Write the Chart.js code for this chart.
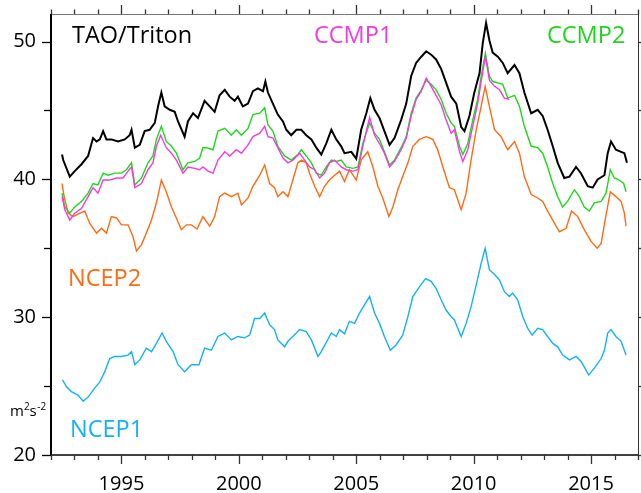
<!DOCTYPE html>
<html><head><meta charset="utf-8">
<script src="https://cdn.jsdelivr.net/npm/chart.js@4/dist/chart.umd.min.js"></script>
<style>html,body{margin:0;padding:0;background:#fff;overflow:hidden}canvas{display:block}</style>
</head><body>
<canvas id="c" width="641" height="493"></canvas>
<script>
// ---------------- data ----------------
const taoYears = [1992.47,1992.52,1992.80,1993.01,1993.30,1993.58,1993.79,1993.94,1994.08,1994.22,1994.36,1994.57,1994.86,1995.14,1995.35,1995.43,1995.57,1995.78,1995.99,1996.20,1996.42,1996.56,1996.70,1996.84,1997.06,1997.27,1997.41,1997.69,1997.83,1998.05,1998.26,1998.54,1998.76,1998.97,1999.18,1999.40,1999.61,1999.82,1999.96,2000.17,2000.39,2000.60,2000.81,2001.03,2001.13,2001.24,2001.45,2001.66,2001.88,2002.02,2002.23,2002.45,2002.66,2002.87,2003.09,2003.30,2003.51,2003.72,2003.94,2004.15,2004.36,2004.50,2004.79,2005.00,2005.21,2005.43,2005.60,2005.78,2005.99,2006.20,2006.42,2006.63,2006.91,2007.13,2007.34,2007.55,2007.77,2007.98,2008.19,2008.40,2008.62,2008.83,2009.04,2009.26,2009.47,2009.61,2009.82,2010.03,2010.25,2010.39,2010.53,2010.67,2010.81,2011.03,2011.24,2011.45,2011.74,2011.95,2012.16,2012.45,2012.73,2012.94,2013.15,2013.37,2013.58,2013.86,2014.08,2014.36,2014.57,2014.86,2015.07,2015.28,2015.57,2015.71,2015.85,2016.06,2016.28,2016.42,2016.53];
const taoValues = [41.8,41.4,40.2,40.6,41.1,41.7,43.0,42.75,42.9,43.5,42.9,42.9,42.75,42.9,43.2,43.6,42.3,42.5,43.5,43.6,44.1,45.3,46.3,45.3,45.05,44.9,44.2,43.1,44.2,44.8,44.45,45.7,45.3,44.9,46.1,46.5,46.0,45.7,46.0,45.3,45.5,46.4,46.6,46.4,47.1,46.3,45.5,44.7,44.2,43.6,43.2,43.6,43.6,43.2,42.9,42.3,41.8,42.6,43.6,42.9,42.4,41.9,42.0,41.5,43.6,44.8,45.9,45.05,44.45,43.5,42.5,43.0,44.3,45.5,47.5,48.45,48.9,49.3,49.05,48.7,48.0,47.0,46.0,45.5,43.8,43.5,44.6,46.3,47.7,49.9,51.35,50.1,49.2,48.9,48.45,47.7,48.3,47.7,46.3,44.8,45.05,44.6,43.6,42.4,41.2,40.1,40.2,40.9,40.45,39.5,39.4,40.0,40.3,41.9,42.75,42.15,42.0,41.9,41.2];

const ccmp1Years = [1992.47,1992.59,1992.80,1993.01,1993.30,1993.58,1993.79,1994.00,1994.22,1994.50,1994.79,1995.07,1995.28,1995.43,1995.57,1995.85,1996.13,1996.34,1996.49,1996.67,1996.91,1997.13,1997.34,1997.62,1997.83,1998.12,1998.33,1998.47,1998.69,1998.90,1999.11,1999.40,1999.61,1999.89,2000.11,2000.39,2000.60,2000.89,2001.10,2001.24,2001.45,2001.66,2001.88,2002.09,2002.30,2002.59,2002.80,2003.01,2003.23,2003.44,2003.65,2003.86,2004.08,2004.36,2004.57,2004.86,2005.07,2005.28,2005.57,2005.78,2005.99,2006.20,2006.42,2006.63,2006.91,2007.13,2007.34,2007.55,2007.77,2007.98,2008.19,2008.40,2008.62,2008.83,2009.04,2009.18,2009.40,2009.54,2009.75,2009.96,2010.17,2010.32,2010.50,2010.67,2010.89,2011.10,2011.31,2011.52];
const ccmp1Values = [38.75,37.8,37.05,37.55,37.9,38.75,39.4,39.0,39.95,39.95,40.1,40.1,40.6,40.9,39.4,39.7,40.7,41.2,42.4,43.2,42.3,41.9,41.4,40.45,40.9,40.8,40.7,40.9,40.6,40.45,41.4,42.0,41.7,42.15,41.9,42.5,43.1,43.35,43.85,43.1,43.0,42.3,41.55,41.2,41.4,41.9,41.4,40.9,40.7,40.1,40.45,41.2,41.4,40.9,40.7,40.6,40.7,42.4,44.5,43.2,42.6,41.9,40.9,41.3,42.15,43.0,44.6,45.8,46.4,47.35,46.75,46.1,45.4,44.3,43.35,43.6,42.0,41.3,42.15,43.85,45.5,47.1,48.9,47.2,46.75,46.5,45.9,45.8];

const ccmp2Years = [1992.47,1992.59,1992.80,1993.01,1993.30,1993.58,1993.79,1994.00,1994.22,1994.43,1994.71,1995.00,1995.21,1995.43,1995.57,1995.85,1996.13,1996.34,1996.49,1996.70,1996.91,1997.13,1997.34,1997.62,1997.83,1998.12,1998.33,1998.47,1998.62,1998.90,1999.11,1999.40,1999.68,1999.89,2000.11,2000.39,2000.60,2000.89,2001.10,2001.24,2001.45,2001.66,2001.95,2002.23,2002.51,2002.66,2002.87,2003.09,2003.30,2003.51,2003.72,2003.94,2004.15,2004.36,2004.57,2004.86,2005.07,2005.28,2005.57,2005.78,2005.99,2006.20,2006.42,2006.63,2006.91,2007.13,2007.34,2007.55,2007.77,2007.98,2008.19,2008.40,2008.62,2008.83,2009.04,2009.18,2009.40,2009.54,2009.75,2009.96,2010.17,2010.32,2010.50,2010.67,2010.81,2011.03,2011.24,2011.45,2011.74,2011.95,2012.16,2012.45,2012.73,2012.94,2013.15,2013.37,2013.58,2013.79,2014.00,2014.29,2014.50,2014.71,2014.93,2015.14,2015.43,2015.64,2015.82,2015.99,2016.20,2016.39,2016.49];
const ccmp2Values = [39.0,38.0,37.55,38.0,38.4,39.0,39.7,39.6,40.45,40.3,40.45,40.45,40.7,41.2,39.6,40.1,41.2,41.7,42.9,43.85,42.75,42.4,41.9,40.7,41.2,41.3,41.55,42.3,42.3,42.15,43.5,43.7,43.2,43.6,43.2,43.7,44.7,44.8,45.2,43.95,43.5,42.4,41.7,41.4,41.8,42.15,41.7,41.2,40.45,40.3,40.9,41.4,41.3,41.4,40.9,40.8,40.9,42.6,44.1,43.35,42.9,42.0,41.05,41.4,42.3,43.1,44.8,45.9,46.5,47.2,46.9,46.5,45.8,44.8,44.1,43.85,42.4,41.8,42.6,44.3,45.8,47.5,49.15,47.5,47.1,47.0,46.9,45.9,46.1,45.3,43.85,42.4,42.3,41.9,40.9,39.7,38.75,38.0,38.4,39.25,38.75,38.0,37.7,38.3,38.4,39.0,40.7,40.1,39.95,39.7,39.1];

const ncep2Years = [1992.47,1992.56,1992.73,1992.94,1993.23,1993.44,1993.65,1993.94,1994.15,1994.36,1994.57,1994.79,1995.00,1995.28,1995.49,1995.64,1995.85,1996.06,1996.28,1996.49,1996.70,1996.91,1997.13,1997.34,1997.55,1997.77,1997.98,1998.22,1998.47,1998.76,1998.97,1999.18,1999.40,1999.68,1999.96,2000.11,2000.39,2000.60,2000.89,2001.10,2001.31,2001.52,2001.66,2001.88,2002.09,2002.30,2002.51,2002.66,2002.87,2003.01,2003.23,2003.44,2003.65,2003.86,2004.08,2004.29,2004.50,2004.71,2005.00,2005.21,2005.49,2005.71,2005.92,2006.13,2006.39,2006.56,2006.77,2006.98,2007.20,2007.41,2007.69,2007.98,2008.26,2008.47,2008.69,2008.97,2009.18,2009.47,2009.68,2009.89,2010.11,2010.32,2010.49,2010.67,2010.89,2011.17,2011.45,2011.74,2011.95,2012.16,2012.45,2012.73,2012.94,2013.15,2013.37,2013.65,2013.94,2014.17,2014.43,2014.71,2015.00,2015.26,2015.43,2015.60,2015.82,2016.06,2016.28,2016.42,2016.49];
const ncep2Values = [39.7,38.75,37.55,37.3,37.55,37.7,36.8,36.1,36.45,36.1,37.3,37.2,36.7,36.7,35.85,34.8,35.25,36.1,37.05,38.3,39.95,39.1,38.0,37.2,36.35,36.7,36.7,36.4,37.3,36.6,37.3,38.75,39.0,38.75,39.0,38.15,38.65,39.5,40.3,41.05,39.7,39.4,38.75,39.1,38.75,39.95,41.2,41.4,41.2,40.45,39.5,38.75,39.5,39.95,40.3,40.6,39.85,40.7,39.95,41.4,42.0,40.9,39.5,38.65,37.3,38.0,39.25,40.2,41.2,42.4,42.9,43.1,42.9,42.15,40.9,39.4,39.25,37.8,39.0,41.4,43.6,45.3,46.75,45.3,43.6,43.1,42.15,42.75,41.9,40.2,38.9,38.65,38.4,37.7,37.05,36.2,36.45,37.7,37.3,36.35,35.5,35.0,35.35,37.05,39.1,38.75,38.4,37.55,36.6];

const ncep1Years = [1992.49,1992.66,1992.87,1993.15,1993.37,1993.58,1993.86,1994.08,1994.29,1994.50,1994.71,1995.00,1995.28,1995.43,1995.57,1995.78,1996.06,1996.28,1996.49,1996.73,1996.91,1997.20,1997.41,1997.69,1997.98,1998.30,1998.54,1998.83,1999.11,1999.40,1999.68,1999.96,2000.25,2000.46,2000.67,2000.89,2001.10,2001.31,2001.52,2001.66,2001.95,2002.09,2002.30,2002.59,2002.87,2003.09,2003.37,2003.51,2003.94,2004.15,2004.29,2004.50,2004.71,2004.93,2005.14,2005.35,2005.57,2005.78,2005.99,2006.20,2006.45,2006.70,2006.98,2007.20,2007.41,2007.69,2007.95,2008.19,2008.40,2008.62,2008.83,2009.04,2009.18,2009.47,2009.68,2009.89,2010.11,2010.32,2010.49,2010.67,2010.89,2011.10,2011.31,2011.52,2011.66,2011.88,2012.09,2012.30,2012.49,2012.73,2012.94,2013.15,2013.37,2013.58,2013.79,2014.08,2014.36,2014.57,2014.71,2014.90,2015.14,2015.43,2015.57,2015.71,2015.85,2016.06,2016.28,2016.49];
const ncep1Values = [25.45,24.95,24.6,24.35,23.9,24.2,24.85,25.3,26.05,27.0,27.15,27.15,27.25,27.5,26.55,26.9,27.75,27.5,28.1,28.85,28.25,27.5,26.55,26.05,26.55,26.55,27.75,27.6,28.6,28.85,28.35,28.6,28.5,28.7,29.9,29.9,30.3,29.45,29.1,28.35,27.85,28.25,28.6,29.1,28.95,28.35,27.15,27.5,28.85,28.6,29.1,28.8,29.7,29.55,30.3,30.9,31.5,30.3,29.55,28.6,27.6,28.0,28.7,30.05,31.5,32.2,32.8,32.6,32.1,31.25,30.5,30.05,29.8,28.6,29.55,30.75,32.35,33.9,35.0,33.45,33.1,32.7,31.85,31.5,31.75,31.25,30.05,29.2,28.7,29.2,29.1,28.6,28.1,27.85,27.25,26.9,27.15,26.8,26.4,25.8,26.3,27.0,27.6,28.85,29.1,28.6,28.25,27.25];

const seriesNames  = ['TAO/Triton','CCMP1','CCMP2','NCEP2','NCEP1'];
const seriesColors = ['#000000','#f23ce0','#1fd61f','#ff6a13','#14b2f2'];
const yTickValues  = [20,30,40,50];
const xTickLabels  = [1995,2000,2005,2010,2015];
const unitLabel    = ['m','2','s','-2'];

// ---------------- helpers ----------------
const pts = (xs, ys) => xs.map((x, i) => ({x: x, y: ys[i]}));
const FONT = "'Open Sans', 'Noto Sans', sans-serif";

const framePlugin = {
  id: 'frame',
  afterDraw(chart) {
    const ctx = chart.ctx, a = chart.chartArea;
    const xs = chart.scales.x, ys = chart.scales.y;
    ctx.save();
    // frame
    ctx.lineCap = 'butt';
    ctx.strokeStyle = '#777'; ctx.lineWidth = 1;
    ctx.beginPath(); ctx.moveTo(a.left, a.top + 0.5); ctx.lineTo(a.right, a.top + 0.5); ctx.stroke();
    ctx.strokeStyle = '#333';
    ctx.beginPath(); ctx.moveTo(a.right + 0.5, a.top); ctx.lineTo(a.right + 0.5, a.bottom); ctx.stroke();
    ctx.strokeStyle = '#000'; ctx.lineWidth = 1.6;
    ctx.beginPath(); ctx.moveTo(a.left, a.bottom); ctx.lineTo(a.right, a.bottom); ctx.stroke();
    ctx.lineWidth = 2;
    ctx.beginPath(); ctx.moveTo(a.left, a.top); ctx.lineTo(a.left, a.bottom + 1); ctx.stroke();
    // x tick marks (bottom: down, top: up)
    ctx.lineWidth = 1.3; ctx.strokeStyle = '#333';
    for (let yr = Math.ceil(xs.min); yr <= xs.max; yr++) {
      const px = Math.round(xs.getPixelForValue(yr)) + 0.5;
      const major = yr % 5 === 0;
      ctx.beginPath(); ctx.moveTo(px, a.bottom); ctx.lineTo(px, a.bottom + (major ? 9 : 5)); ctx.stroke();
      ctx.beginPath(); ctx.moveTo(px, a.top); ctx.lineTo(px, a.top - (major ? 9 : 4.5)); ctx.stroke();
    }
    // y tick marks (left: out, right: out)
    for (let v = 20; v <= ys.max; v += 5) {
      const py = Math.round(ys.getPixelForValue(v)) + 0.5;
      const major = v % 10 === 0;
      ctx.strokeStyle = '#000';
      ctx.beginPath(); ctx.moveTo(a.left, py); ctx.lineTo(a.left - (major ? 9 : 7), py); ctx.stroke();
      ctx.strokeStyle = '#333';
      ctx.beginPath(); ctx.moveTo(a.right, py); ctx.lineTo(a.right + 9, py); ctx.stroke();
    }
    // series labels
    ctx.textBaseline = 'alphabetic';
    ctx.textAlign = 'left';
    ctx.font = '23.5px ' + FONT;
    const labelPos = [[72, 43], [314, 43], [547, 43], [68, 286], [70, 437]];
    seriesNames.forEach((n, i) => {
      ctx.fillStyle = seriesColors[i];
      ctx.fillText(n, labelPos[i][0], labelPos[i][1]);
    });
    // unit label m^2 s^-2
    ctx.fillStyle = '#000';
    let ux = 10; const ub = 416;
    ctx.font = '15px ' + FONT;
    ctx.fillText(unitLabel[0], ux, ub); ux += ctx.measureText(unitLabel[0]).width;
    ctx.font = '10px ' + FONT;
    ctx.fillText(unitLabel[1], ux, ub - 6); ux += ctx.measureText(unitLabel[1]).width;
    ctx.font = '15px ' + FONT;
    ctx.fillText(unitLabel[2], ux, ub); ux += ctx.measureText(unitLabel[2]).width + 0.5;
    ctx.font = '10px ' + FONT;
    ctx.fillText(unitLabel[3], ux, ub - 6);
    ctx.restore();
  }
};

const datasets = [
  {label: seriesNames[0], data: pts(taoYears, taoValues),     borderColor: seriesColors[0], borderWidth: 2},
  {label: seriesNames[1], data: pts(ccmp1Years, ccmp1Values), borderColor: seriesColors[1], borderWidth: 1.4},
  {label: seriesNames[2], data: pts(ccmp2Years, ccmp2Values), borderColor: seriesColors[2], borderWidth: 1.4},
  {label: seriesNames[3], data: pts(ncep2Years, ncep2Values), borderColor: seriesColors[3], borderWidth: 1.4},
  {label: seriesNames[4], data: pts(ncep1Years, ncep1Values), borderColor: seriesColors[4], borderWidth: 1.4}
].map(d => Object.assign(d, {pointRadius: 0, tension: 0, fill: false}));

const zeroPad = s => { s.paddingTop = 0; s.paddingBottom = 0; s.paddingLeft = 0; s.paddingRight = 0; };

new Chart(document.getElementById('c'), {
  type: 'line',
  data: {datasets: datasets},
  options: {
    responsive: false,
    animation: false,
    devicePixelRatio: 1,
    layout: {padding: {top: 14, right: 3, left: 0, bottom: 0}},
    plugins: {legend: {display: false}, tooltip: {enabled: false}},
    scales: {
      x: {
        type: 'linear', min: 1992, max: 2017,
        grid: {display: false, drawTicks: false},
        border: {display: false},
        ticks: {
          stepSize: 5, autoSkip: false, maxRotation: 0, padding: 17,
          color: '#000', font: {family: FONT, size: 20},
          callback: v => (xTickLabels.includes(v) ? String(v) : '')
        },
        afterBuildTicks: s => { s.ticks = xTickLabels.map(v => ({value: v})); },
        afterFit: s => { s.height = 38; zeroPad(s); }
      },
      y: {
        type: 'linear', min: 20, max: 52,
        grid: {display: false, drawTicks: false},
        border: {display: false},
        ticks: {
          autoSkip: false, padding: 15,
          color: '#000', font: {family: FONT, size: 20},
          callback: v => String(v)
        },
        afterBuildTicks: s => { s.ticks = yTickValues.map(v => ({value: v})); },
        afterFit: s => { s.width = 51; zeroPad(s); }
      }
    }
  },
  plugins: [framePlugin]
});
</script>
</body></html>
